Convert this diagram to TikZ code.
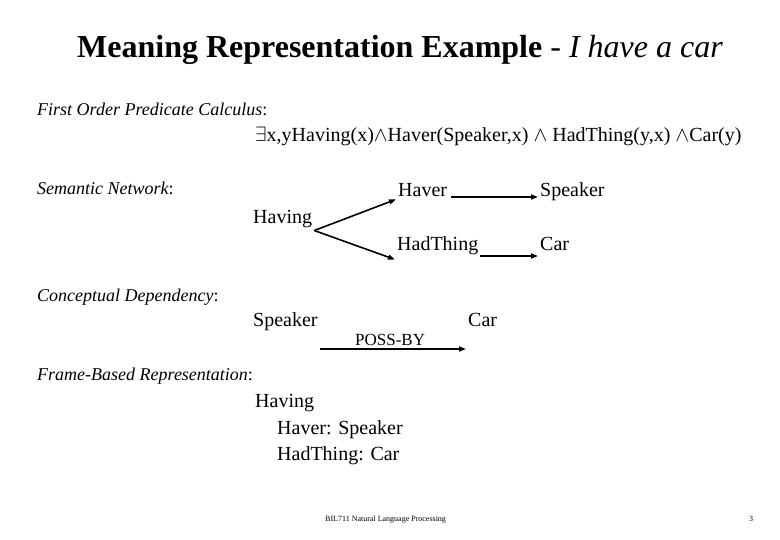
\documentclass[tikz,border=0pt]{standalone}
\usepackage{fontspec}
\setmainfont{Liberation Serif}
\usepackage{tikz}
\usetikzlibrary{arrows.meta, positioning, calc}
\tikzset{
  titletext/.style={anchor=base,font=\fontsize{32}{38}\selectfont,inner sep=0pt},
  headtext/.style={anchor=base west,font=\fontsize{18}{22}\selectfont\itshape,inner sep=0pt},
  bodytext/.style={anchor=base west,font=\fontsize{20}{24}\selectfont,inner sep=2pt},
  foottext/.style={anchor=base west,font=\fontsize{8}{9}\selectfont,inner sep=0pt},
  linkarrow/.style={-{Triangle[length=7pt,width=5pt]},line width=1.6pt},
}
\begin{document}
\begin{tikzpicture}[x=1pt,y=-1pt]
  \useasboundingbox (0,0) rectangle (780,540);
  % Title
  \node[titletext] (title) at (400,58)
    {\textbf{Meaning Representation Example} - \textit{I have a car}};
  % First order predicate calculus
  \node[headtext] (fopc) at (37,116) {First Order Predicate Calculus\upshape:};
  \node[bodytext,inner sep=0pt] (formula) at (255,142)
    {$\exists$x,yHaving(x)$\wedge$Haver(Speaker,x) $\wedge$ HadThing(y,x) $\wedge$Car(y)};
  % Semantic network
  \node[headtext] (semnet) at (37,195) {Semantic Network\upshape:};
  \node[bodytext] (having) at (251,224) {Having};
  \node[bodytext] (haver) at (396,197) {Haver};
  \node[bodytext] (speaker) at (538,197) {Speaker};
  \node[bodytext] (hadthing) at (395,251) {HadThing};
  \node[bodytext] (car) at (538,251) {Car};
  \draw[linkarrow] (having.south east) -- (haver.south west);
  \draw[linkarrow] (having.south east) -- ([yshift=-2pt]hadthing.south west);
  \draw[linkarrow] ([xshift=2pt]haver.base east) -- (haver.base -| speaker.west);
  \draw[linkarrow] ([yshift=-5pt]hadthing.base east) -- ([yshift=-5pt]hadthing.base -| car.west);
  % Conceptual dependency
  \node[headtext] (concdep) at (37,302) {Conceptual Dependency\upshape:};
  \node[bodytext] (speakerb) at (251,327) {Speaker};
  \node[bodytext] (carb) at (466,327) {Car};
  \node[bodytext,font=\fontsize{17}{20}\selectfont,inner sep=0pt] (possby) at (355,345) {POSS-BY};
  \draw[linkarrow] ([yshift=-4pt]possby.base -| speakerb.east) -- ([yshift=-4pt]possby.base -| carb.west);
  % Frame-based representation
  \node[headtext] (frame) at (37,381) {Frame-Based Representation\upshape:};
  \node[bodytext,inner sep=0pt] (havingf) at (255,407) {Having};
  \node[bodytext,inner sep=0pt] (haverf) at (277,434) {Haver: Speaker};
  \node[bodytext,inner sep=0pt] (hadthingf) at (277,460) {HadThing: Car};
  % Footer
  \node[foottext] (course) at (325,521) {BIL711 Natural Language Processing};
  \node[foottext] (pageno) at (749,521) {3};
\end{tikzpicture}
\end{document}
